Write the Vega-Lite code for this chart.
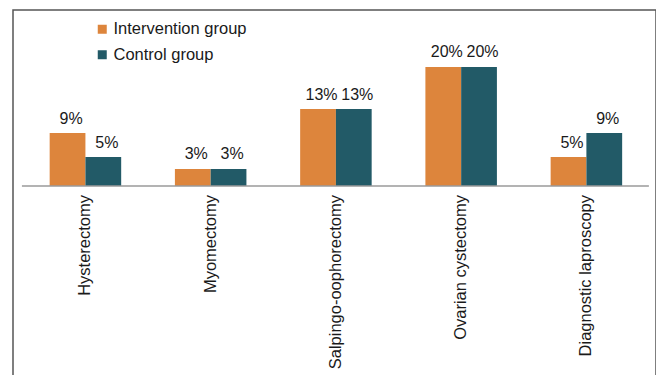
{
  "$schema": "https://vega.github.io/schema/vega-lite/v6.json",
  "autosize": "none",
  "width": 643,
  "height": 400,
  "padding": {"left": 13, "top": 10, "right": 0, "bottom": 0},
  "background": "white",
  "config": {
    "view": {"stroke": "#555555", "strokeWidth": 1.5},
    "font": "Liberation Sans",
    "text": {"font": "Liberation Sans"}
  },
  "datasets": {
    "bars": [
      {"procedure": "Hysterectomy", "group": "Intervention group", "value": 8.9, "label": "9%"},
      {"procedure": "Hysterectomy", "group": "Control group", "value": 4.87, "label": "5%"},
      {"procedure": "Myomectomy", "group": "Intervention group", "value": 2.86, "label": "3%"},
      {"procedure": "Myomectomy", "group": "Control group", "value": 2.86, "label": "3%"},
      {"procedure": "Salpingo-oophorectomy", "group": "Intervention group", "value": 12.94, "label": "13%"},
      {"procedure": "Salpingo-oophorectomy", "group": "Control group", "value": 12.94, "label": "13%"},
      {"procedure": "Ovarian cystectomy", "group": "Intervention group", "value": 20, "label": "20%"},
      {"procedure": "Ovarian cystectomy", "group": "Control group", "value": 20, "label": "20%"},
      {"procedure": "Diagnostic laproscopy", "group": "Intervention group", "value": 4.87, "label": "5%"},
      {"procedure": "Diagnostic laproscopy", "group": "Control group", "value": 8.9, "label": "9%"}
    ],
    "cats": [
      {"procedure": "Hysterectomy"},
      {"procedure": "Myomectomy"},
      {"procedure": "Salpingo-oophorectomy"},
      {"procedure": "Ovarian cystectomy"},
      {"procedure": "Diagnostic laproscopy"}
    ]
  },
  "layer": [
    {
      "data": {"name": "bars"},
      "mark": {"type": "bar", "cornerRadius": 0},
      "encoding": {
        "x": {
          "field": "procedure", "type": "nominal", "sort": null, "axis": null,
          "scale": {"paddingInner": 0.429, "paddingOuter": 0.2815, "align": 0.52}
        },
        "xOffset": {"field": "group", "type": "nominal", "sort": ["Intervention group", "Control group"], "scale": {"paddingInner": 0, "paddingOuter": 0}},
        "y": {
          "field": "value", "type": "quantitative", "axis": null,
          "scale": {"domain": [-37.65, 29.58], "nice": false, "zero": false}
        },
        "y2": {"datum": 0},
        "color": {
          "field": "group", "type": "nominal",
          "sort": ["Intervention group", "Control group"],
          "scale": {"domain": ["Intervention group", "Control group"], "range": ["#DD853C", "#225A67"]},
          "legend": {
            "title": null, "orient": "none", "legendX": 81, "legendY": 11,
            "symbolType": "square", "symbolSize": 81, "symbolStrokeWidth": 0,
            "labelFontSize": 16.5, "labelFont": "Liberation Sans", "labelColor": "#1a1a1a",
            "labelOffset": 3, "rowPadding": 8.5, "padding": 0, "labelLimit": 300
          }
        }
      }
    },
    {
      "data": {"name": "bars"},
      "mark": {"type": "text", "fontSize": 16, "baseline": "alphabetic", "dy": -9.5, "dx": 3.5, "color": "#1a1a1a"},
      "encoding": {
        "x": {"field": "procedure", "type": "nominal", "sort": null},
        "xOffset": {"field": "group", "type": "nominal", "sort": ["Intervention group", "Control group"]},
        "y": {"field": "value", "type": "quantitative"},
        "text": {"field": "label"}
      }
    },
    {
      "data": {"values": [{}]},
      "mark": {"type": "rule", "color": "#9a9a9a", "strokeWidth": 1.5},
      "encoding": {
        "x": {"datum": "Hysterectomy", "bandPosition": -0.388},
        "x2": {"datum": "Diagnostic laproscopy", "bandPosition": 1.374},
        "y": {"datum": 0}
      }
    },
    {
      "data": {"name": "cats"},
      "mark": {"type": "text", "angle": 270, "align": "right", "baseline": "middle", "dx": -9, "fontSize": 16.5, "color": "#1a1a1a"},
      "encoding": {
        "x": {"field": "procedure", "type": "nominal", "sort": null},
        "y": {"datum": 0},
        "text": {"field": "procedure"}
      }
    }
  ]
}
